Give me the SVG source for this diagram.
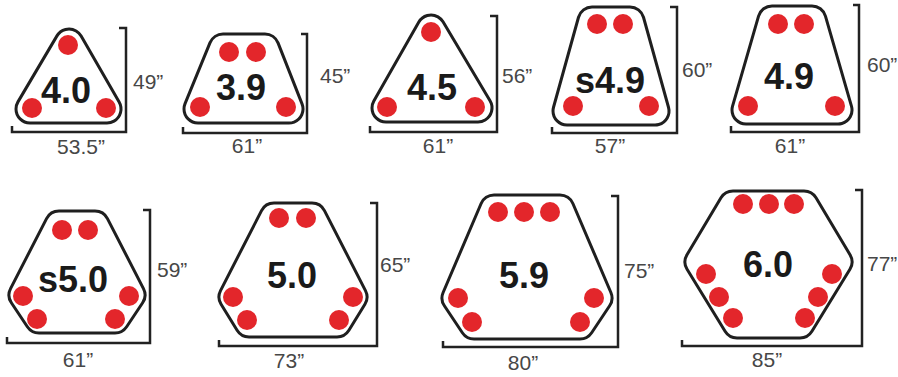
<svg xmlns="http://www.w3.org/2000/svg" xmlns:xlink="http://www.w3.org/1999/xlink" width="898" height="377" viewBox="0 0 898 377">
<style>
.ob{fill:#1f1f1f;stroke:#1f1f1f;stroke-width:31;stroke-linejoin:round}
.ow{fill:#fff;stroke:#fff;stroke-width:25;stroke-linejoin:round}
.seat{fill:#e3262b}
.lbl{font-family:"Liberation Sans",Arial,sans-serif;font-weight:bold;font-size:36px;fill:#1a1a1a;text-anchor:middle}
.dim{font-family:"Liberation Sans",Arial,sans-serif;font-size:21px;fill:#474747}
.mid{text-anchor:middle}
.br{fill:none;stroke:#222;stroke-width:2.5;stroke-linejoin:miter}
</style>
<defs>
<polygon id="p1" points="69,43 107,109 30,109"/>
<polygon id="p2" points="223,48 265,48 289,109 198,109"/>
<polygon id="p3" points="431,29 478,108 386,108"/>
<polygon id="p4" points="592,21 630,21 655,111 567,111"/>
<polygon id="p5" points="772,20 812,20 838,110 746,110"/>
<polygon id="p6" points="59,225 95,225 131,295 115,319 39,319 23,295"/>
<polygon id="p7" points="274,217 312,217 353,297 337,323 249,323 233,297"/>
<polygon id="p8" points="494,209 560,209 598,298 580,325 474,325 456,298"/>
<polygon id="p9" points="733,205 804,205 838,262 800,324 737,324 699,262"/>
</defs>
<rect width="898" height="377" fill="#fff"/>

<g id="table-4-0">
<use href="#p1" class="ob"/><use href="#p1" class="ow"/>
<circle class="seat" cx="68" cy="45" r="10"/><circle class="seat" cx="32" cy="108" r="10"/><circle class="seat" cx="106" cy="108" r="10"/>
<text class="lbl" x="66" y="103">4.0</text>
<text class="dim" x="133" y="89">49”</text>
<text class="dim mid" x="81" y="154">53.5”</text>
</g>

<g id="table-3-9">
<use href="#p2" class="ob"/><use href="#p2" class="ow"/>
<circle class="seat" cx="229" cy="52" r="10"/><circle class="seat" cx="256" cy="52" r="10"/><circle class="seat" cx="200" cy="107" r="10"/><circle class="seat" cx="286" cy="107" r="10"/>
<text class="lbl" x="241" y="100">3.9</text>
<text class="dim" x="320" y="83">45”</text>
<text class="dim mid" x="247" y="153">61”</text>
</g>

<g id="table-4-5">
<use href="#p3" class="ob"/><use href="#p3" class="ow"/>
<circle class="seat" cx="431" cy="32" r="10"/><circle class="seat" cx="387" cy="107" r="10"/><circle class="seat" cx="475" cy="107" r="10"/>
<text class="lbl" x="432" y="100">4.5</text>
<text class="dim" x="502" y="83">56”</text>
<text class="dim mid" x="438" y="153">61”</text>
</g>

<g id="table-s4-9">
<use href="#p4" class="ob"/><use href="#p4" class="ow"/>
<circle class="seat" cx="597" cy="24" r="10"/><circle class="seat" cx="623" cy="24" r="10"/><circle class="seat" cx="573" cy="106" r="10"/><circle class="seat" cx="649" cy="106" r="10"/>
<text class="lbl" x="610" y="93">s4.9</text>
<text class="dim" x="682" y="77">60”</text>
<text class="dim mid" x="610" y="153">57”</text>
</g>

<g id="table-4-9">
<use href="#p5" class="ob"/><use href="#p5" class="ow"/>
<circle class="seat" cx="778" cy="24" r="10"/><circle class="seat" cx="804" cy="24" r="10"/><circle class="seat" cx="748" cy="106" r="10"/><circle class="seat" cx="835" cy="106" r="10"/>
<text class="lbl" x="789" y="89">4.9</text>
<text class="dim" x="867" y="72">60”</text>
<text class="dim mid" x="790" y="153">61”</text>
</g>

<g id="table-s5-0">
<use href="#p6" class="ob"/><use href="#p6" class="ow"/>
<circle class="seat" cx="62" cy="230" r="10"/><circle class="seat" cx="88" cy="230" r="10"/>
<circle class="seat" cx="23" cy="296" r="10"/><circle class="seat" cx="37" cy="319" r="10"/>
<circle class="seat" cx="129" cy="296" r="10"/><circle class="seat" cx="115" cy="319" r="10"/>
<text class="lbl" x="73" y="292">s5.0</text>
<text class="dim" x="157" y="277">59”</text>
<text class="dim mid" x="78" y="367">61”</text>
</g>

<g id="table-5-0">
<use href="#p7" class="ob"/><use href="#p7" class="ow"/>
<circle class="seat" cx="279" cy="218" r="10"/><circle class="seat" cx="306" cy="218" r="10"/>
<circle class="seat" cx="233" cy="297" r="10"/><circle class="seat" cx="247" cy="320" r="10"/>
<circle class="seat" cx="353" cy="297" r="10"/><circle class="seat" cx="339" cy="320" r="10"/>
<text class="lbl" x="292" y="288">5.0</text>
<text class="dim" x="380" y="272">65”</text>
<text class="dim mid" x="289" y="368">73”</text>
</g>

<g id="table-5-9">
<use href="#p8" class="ob"/><use href="#p8" class="ow"/>
<circle class="seat" cx="498" cy="212" r="10"/><circle class="seat" cx="524" cy="212" r="10"/><circle class="seat" cx="550" cy="212" r="10"/>
<circle class="seat" cx="458" cy="298" r="10"/><circle class="seat" cx="472" cy="322" r="10"/>
<circle class="seat" cx="594" cy="298" r="10"/><circle class="seat" cx="580" cy="322" r="10"/>
<text class="lbl" x="524" y="288">5.9</text>
<text class="dim" x="624" y="278">75”</text>
<text class="dim mid" x="523" y="370">80”</text>
</g>

<g id="table-6-0">
<use href="#p9" class="ob"/><use href="#p9" class="ow"/>
<circle class="seat" cx="743" cy="204" r="10"/><circle class="seat" cx="769" cy="204" r="10"/><circle class="seat" cx="794" cy="204" r="10"/>
<circle class="seat" cx="706" cy="274" r="10"/><circle class="seat" cx="719" cy="297" r="10"/><circle class="seat" cx="733" cy="318" r="10"/>
<circle class="seat" cx="832" cy="274" r="10"/><circle class="seat" cx="818" cy="297" r="10"/><circle class="seat" cx="805" cy="318" r="10"/>
<text class="lbl" x="768" y="277">6.0</text>
<text class="dim" x="867" y="271">77”</text>
<text class="dim mid" x="767" y="367">85”</text>
</g>

<g id="dimension-brackets">
<polyline class="br" points="119,28 126,28 126,132 12,132 12,126"/>
<polyline class="br" points="301,34 307,34 307,133 183,133 183,127"/>
<polyline class="br" points="490,16 497,16 497,132 370,132 370,126"/>
<polyline class="br" points="670,7 677,7 677,133 552,133 552,127"/>
<polyline class="br" points="853,5 859,5 859,132 731,132 731,126"/>
<polyline class="br" points="143,210 150,210 150,343 7,343 7,337"/>
<polyline class="br" points="370,203 377,203 377,346 219,346 219,340"/>
<polyline class="br" points="611,196 618,196 618,347 443,347 443,341"/>
<polyline class="br" points="855,190 862,190 862,346 682,346 682,340"/>
</g>
</svg>
